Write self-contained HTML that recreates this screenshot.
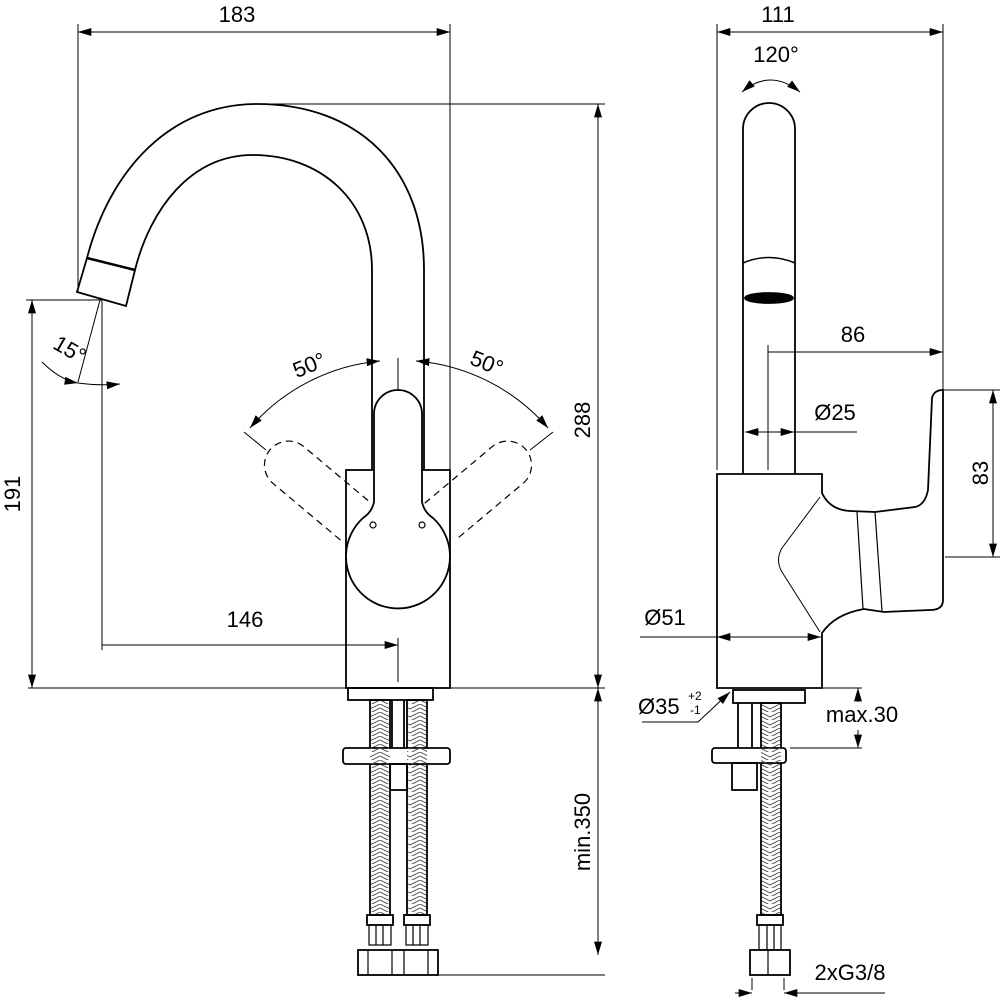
<!DOCTYPE html>
<html><head><meta charset="utf-8"><style>html,body{margin:0;padding:0;background:#fff}svg{display:block}text{font-family:"Liberation Sans",sans-serif;font-size:22px;fill:#000}</style></head>
<body>
<svg width="1000" height="1000" viewBox="0 0 1000 1000" xmlns="http://www.w3.org/2000/svg">
<defs>
<marker id="a" viewBox="0 0 10 6" refX="10" refY="3" markerWidth="17" markerHeight="8" markerUnits="userSpaceOnUse" orient="auto-start-reverse"><path d="M0,0L10,3L0,6z" fill="#000"/></marker>
<pattern id="br" width="20" height="8" patternUnits="userSpaceOnUse"><path d="M0,0L10,5L20,0M0,4L10,9L20,4" fill="none" stroke="#555" stroke-width="1"/></pattern>
</defs>
<g fill="none" stroke="#000" stroke-width="1">
<line x1="78" y1="32" x2="450" y2="32" marker-start="url(#a)" marker-end="url(#a)"/>
<line x1="78" y1="24" x2="78" y2="292"/>
<line x1="450" y1="24" x2="450" y2="470"/>
<line x1="598" y1="104" x2="598" y2="688" marker-start="url(#a)" marker-end="url(#a)"/>
<line x1="257" y1="104" x2="605" y2="104"/>
<line x1="28" y1="688" x2="605" y2="688"/>
<line x1="32" y1="300" x2="32" y2="688" marker-start="url(#a)" marker-end="url(#a)"/>
<line x1="26" y1="300" x2="102" y2="300"/>
<line x1="102" y1="300" x2="102" y2="650"/>
<line x1="102" y1="645" x2="398" y2="645" marker-end="url(#a)"/>
<line x1="398" y1="638" x2="398" y2="682"/>
<line x1="100" y1="300" x2="78" y2="382"/>
<path d="M42,362 Q60,380 78,383" marker-end="url(#a)"/>
<path d="M78,383 Q100,386 120,384" marker-end="url(#a)"/>
<path d="M250,428 A195,195 0 0 1 380,361" marker-start="url(#a)" marker-end="url(#a)"/>
<path d="M548,428 A195,195 0 0 0 416,361" marker-start="url(#a)" marker-end="url(#a)"/>
<line x1="398" y1="358" x2="398" y2="390"/>
<line x1="244" y1="432" x2="266" y2="450"/>
<line x1="553" y1="432" x2="530" y2="450"/>
<line x1="598" y1="688" x2="598" y2="955" marker-start="url(#a)" marker-end="url(#a)"/>
<line x1="438" y1="975" x2="605" y2="975"/>
</g>
<g fill="none" stroke="#000" stroke-width="1.8">
<path d="M87,258 C110,170 170,104 257,104 C360,104 424,170 424,270 L424,470"/>
<path d="M135,270 C150,210 190,155 253,155 C320,155 372,200 372,270 L372,470"/>
<path d="M87,258 L77,292 L126,306 L135,270 Z"/>
<line x1="87" y1="258" x2="135" y2="270" stroke-width="2.5"/>
<rect x="346" y="470" width="104" height="218"/>
<path d="M374,502 L374,414 A24,24 0 0 1 422,414 L422,502 Q424,512 433,518 A52,52 0 1 1 363,518 Q372,512 374,502 Z" fill="#fff"/>
<circle cx="373" cy="525" r="3" stroke-width="1.2"/><circle cx="422" cy="525" r="3" stroke-width="1.2"/>
<g stroke-dasharray="7,5" stroke-width="1.2">
<path d="M374,502 L374,414 A24,24 0 0 1 422,414 L422,502" transform="rotate(-50 398 557)"/>
<path d="M374,502 L374,414 A24,24 0 0 1 422,414 L422,502" transform="rotate(50 398 557)"/>
</g>
<rect x="348" y="688" width="85" height="12"/>
<rect x="370" y="700" width="20" height="215" fill="url(#br)"/>
<rect x="407" y="700" width="20" height="215" fill="url(#br)"/>
<line x1="392" y1="700" x2="392" y2="760"/><line x1="404" y1="700" x2="404" y2="760"/>
<rect x="343" y="748" width="107" height="16" rx="3" fill="#fff"/>
<rect x="370" y="748" width="20" height="16" fill="url(#br)" stroke="none"/>
<rect x="407" y="748" width="20" height="16" fill="url(#br)" stroke="none"/>
<rect x="390" y="764" width="17" height="26"/>
<rect x="367" y="915" width="26" height="10"/><rect x="404" y="915" width="26" height="10"/>
<rect x="369" y="925" width="22" height="20" stroke-width="1.2"/><rect x="406" y="925" width="22" height="20" stroke-width="1.2"/>
<path d="M376,925V945M383,925V945M413,925V945M420,925V945" stroke-width="1.2"/>
<rect x="358" y="950" width="80" height="25"/>
<path d="M368,950V975M392,950V975M404,950V975M428,950V975" stroke-width="1.2"/>
</g>
<g fill="none" stroke="#000" stroke-width="1.8">
<path d="M743,474 L743,129 A26,26 0 0 1 795,129 L795,474"/>
<path d="M743,263 Q769,252 795,263" stroke-width="1.5"/>
<ellipse cx="769" cy="298" rx="24" ry="5" fill="#000"/>
<path d="M717,474 L822,474 L822,493 Q830,510 850,511 L875,512 L915,507 Q925,505 928,490 L932,398 Q934,390 943,390 L943,600 Q943,610 930,610 L884,612 L864,609 Q835,614 822,633 L822,688 L717,688 Z" fill="#fff"/>
<path d="M857,512 L863,609 M875,512 L882,611" stroke-width="1.2"/>
<path d="M820,497 L782,548 Q775,560 782,572 L820,632" stroke-width="1"/>
<rect x="733" y="690" width="72" height="13"/>
<rect x="761" y="703" width="20" height="212" fill="url(#br)"/>
<line x1="738" y1="703" x2="738" y2="748"/><line x1="752" y1="703" x2="752" y2="748"/>
<rect x="712" y="748" width="74" height="15" rx="3" fill="#fff"/>
<rect x="761" y="748" width="20" height="15" fill="url(#br)" stroke="none"/>
<rect x="732" y="763" width="25" height="27"/>
<rect x="757" y="915" width="26" height="10"/>
<rect x="759" y="925" width="22" height="25" stroke-width="1.2"/>
<path d="M767,925V950M774,925V950" stroke-width="1.2"/>
<rect x="750" y="950" width="40" height="25"/>
<line x1="768" y1="950" x2="768" y2="975" stroke-width="1.2"/>
</g>
<g fill="none" stroke="#000" stroke-width="1">
<line x1="717" y1="32" x2="943" y2="32" marker-start="url(#a)" marker-end="url(#a)"/>
<line x1="717" y1="24" x2="717" y2="470"/>
<line x1="943" y1="24" x2="943" y2="390"/>
<path d="M742,92 Q770,68 800,92" marker-start="url(#a)" marker-end="url(#a)"/>
<line x1="768" y1="352" x2="943" y2="352" marker-end="url(#a)"/>
<line x1="768" y1="345" x2="768" y2="470"/>
<line x1="745" y1="432" x2="857" y2="432"/>
<line x1="770" y1="432" x2="745" y2="432" marker-end="url(#a)"/>
<line x1="770" y1="432" x2="794" y2="432" marker-end="url(#a)"/>
<line x1="993" y1="390" x2="993" y2="557" marker-start="url(#a)" marker-end="url(#a)"/>
<line x1="943" y1="390" x2="1000" y2="390"/><line x1="945" y1="557" x2="1000" y2="557"/>
<line x1="640" y1="637" x2="717" y2="637"/>
<line x1="717" y1="637" x2="821" y2="637" marker-start="url(#a)" marker-end="url(#a)"/>
<path d="M642,722 L698,722 L730,692" marker-end="url(#a)"/>
<line x1="808" y1="688" x2="862" y2="688"/><line x1="790" y1="748" x2="862" y2="748"/>
<line x1="858" y1="688" x2="858" y2="702" marker-start="url(#a)"/>
<line x1="858" y1="730" x2="858" y2="748" marker-end="url(#a)"/>
<line x1="752" y1="990" x2="752" y2="978"/><line x1="784" y1="990" x2="784" y2="978"/>
<line x1="735" y1="993" x2="752" y2="993" marker-end="url(#a)"/>
<line x1="885" y1="993" x2="784" y2="993" marker-end="url(#a)"/>
</g>
<text x="237" y="22" text-anchor="middle">183</text>
<text x="778" y="22" text-anchor="middle">111</text>
<text x="776" y="62" text-anchor="middle">120°</text>
<text x="853" y="342" text-anchor="middle">86</text>
<text x="835" y="420" text-anchor="middle">Ø25</text>
<text x="665" y="625" text-anchor="middle">Ø51</text>
<text x="638" y="714">Ø35</text>
<text x="688" y="700" style="font-size:12px">+2</text>
<text x="690" y="714" style="font-size:12px">-1</text>
<text x="862" y="722" text-anchor="middle">max.30</text>
<text x="850" y="980" text-anchor="middle">2xG3/8</text>
<text x="245" y="627" text-anchor="middle">146</text>
<text transform="translate(590,420) rotate(-90)" text-anchor="middle">288</text>
<text transform="translate(20,494) rotate(-90)" text-anchor="middle">191</text>
<text transform="translate(988,473) rotate(-90)" text-anchor="middle">83</text>
<text transform="translate(590,832) rotate(-90)" text-anchor="middle">min.350</text>
<text transform="translate(312,372) rotate(-22)" text-anchor="middle">50°</text>
<text transform="translate(484,370) rotate(22)" text-anchor="middle">50°</text>
<text transform="translate(66,356) rotate(30)" text-anchor="middle">15°</text>
</svg>
</body></html>
